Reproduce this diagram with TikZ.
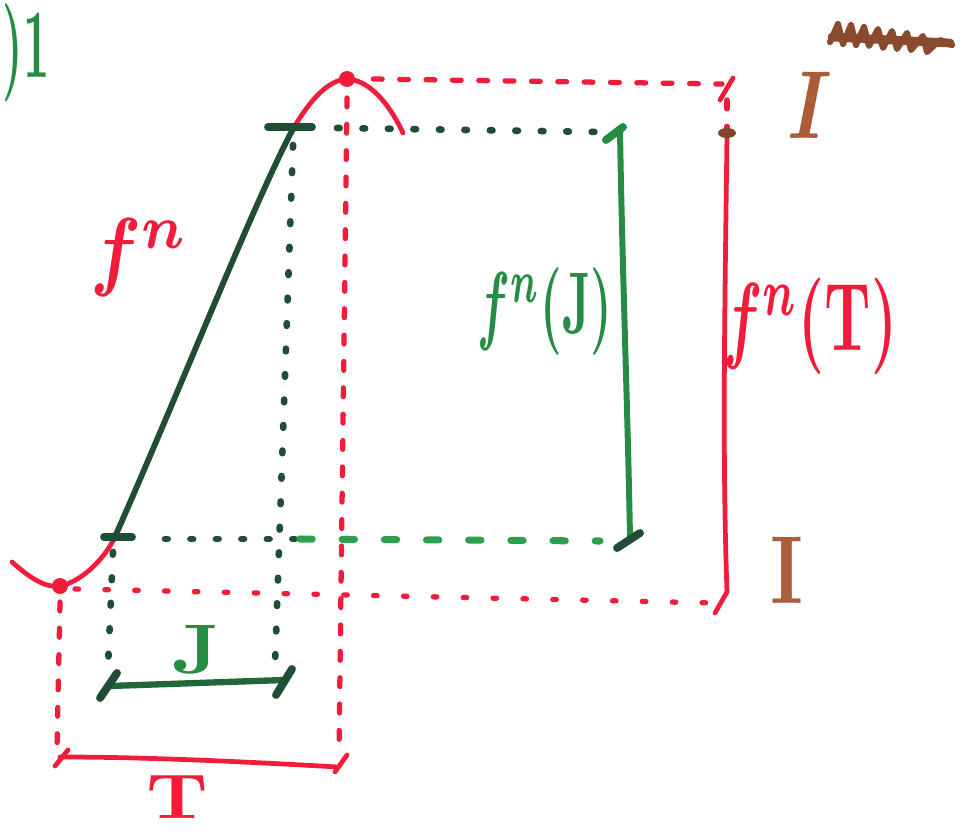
\documentclass[tikz,border=0pt]{standalone}
\usepackage{graphicx}
\usepackage{bm}
\definecolor{penred}{RGB}{240,28,58}
\definecolor{pengreen}{RGB}{38,140,68}
\definecolor{pendark}{RGB}{32,78,52}
\definecolor{penlight}{RGB}{45,160,78}
\definecolor{penbrown}{RGB}{172,92,58}
\begin{document}
\begin{tikzpicture}[x=0.02cm,y=-0.02cm,line cap=round,line join=round,
  redline/.style={draw=penred,line width=2.7pt},
  reddash/.style={draw=penred,line width=3pt,dash pattern=on 5pt off 10pt},
  reddots/.style={draw=penred,line width=3pt,dash pattern=on 2pt off 15pt},
  greenline/.style={draw=pengreen,line width=3pt},
  darkline/.style={draw=pendark,line width=3.3pt},
  greendots/.style={draw=pendark,line width=3.8pt,dash pattern=on 1.5pt off 13pt},
  greendash/.style={draw=penlight,line width=4pt,dash pattern=on 7pt off 17pt},
  tickmark/.style={line width=4.5pt},
  lab/.style={inner sep=0pt,outer sep=0pt}]

\useasboundingbox (0,0) rectangle (964,832);

% key points
\coordinate (cstart) at (12,562);
\coordinate (pmin) at (60,586);
\coordinate (jlo) at (114,539);
\coordinate (jhi) at (293,129);
\coordinate (pmax) at (347,79);
\coordinate (cend) at (403,133);

% red curve and dark branch
\draw[redline] (cstart) .. controls (30,578) and (45,588) .. (pmin) .. controls (80,582) and (102,562) .. (jlo);
\draw[redline] (jhi) .. controls (310,100) and (328,80) .. (pmax) .. controls (370,80) and (390,105) .. (cend);
\draw[darkline] (jlo) .. controls (180,390) and (255,200) .. (jhi);
\fill[penred] (pmin) circle (8);
\fill[penred] (pmax) circle (8);

% dark ticks at the ends of the branch
\coordinate (tkhl) at (268,127); \coordinate (tkhr) at (312,127);
\coordinate (tkll) at (104,537); \coordinate (tklr) at (132,537);
\draw[pendark,tickmark] (tkhl) -- (tkhr);
\draw[pendark,tickmark] (tkll) -- (tklr);

% red frame for f^n(T)
\coordinate (rtopr) at (722,84);
\coordinate (rbotl) at (75,589);
\coordinate (rbotr) at (715,603);
\draw[reddash] ([xshift=15]pmax) -- (rtopr);
\coordinate (rvt) at (727,100);
\coordinate (bdot) at (727,133);
\coordinate (rvb) at (727,592);
\draw[redline] (720,100) -- (733,78);
\draw[reddash] (rvt) -- (bdot);
\draw[redline] (bdot) .. controls (725,300) and (722,450) .. (rvb);
\draw[redline] (715,613) -- (rvb);
\fill[penbrown!75!black] (bdot) ellipse (9 and 5);
\draw[reddots] (rbotl) -- (rbotr);

% red verticals down to T
\coordinate (rv1t) at (347,98);
\coordinate (rv1b) at (339,752);
\coordinate (rv2t) at (60,602);
\coordinate (rv2b) at (57,748);
\draw[reddash] (rv1t) -- (rv1b);
\draw[reddash] (rv2t) -- (rv2b);

% segment T
\coordinate (tl) at (60,757);
\coordinate (tr) at (338,767);
\draw[redline] (tl) .. controls (150,757) and (250,762) .. (tr);
\draw[redline] (55,766) -- (68,750);
\draw[redline] (335,772) -- (347,755);

% green projections
\coordinate (gtopl) at (337,128);
\coordinate (gtopr) at (603,132);
\draw[greendots] (gtopl) -- (gtopr);
\coordinate (glowl) at (165,539);
\coordinate (glowm) at (300,539);
\coordinate (glowr) at (600,541);
\draw[greendots] (glowl) -- (glowm);
\draw[greendash] (glowm) -- (glowr);
\coordinate (gv1t) at (293,145);
\coordinate (gv1b) at (275,665);
\coordinate (gv2t) at (113,552);
\coordinate (gv2b) at (108,666);
\draw[greendots] (gv1t) -- (gv1b);
\draw[greendots] (gv2t) -- (gv2b);

% green f^n(J) segment
\coordinate (gvt) at (620,130);
\coordinate (gvb) at (630,538);
\draw[greenline,line width=3.4pt] (gvt) .. controls (622,260) and (628,420) .. (gvb);
\draw[pengreen,tickmark] (606,140) -- (623,127);
\draw[pendark,tickmark] (617,548) -- (640,533);

% segment J
\coordinate (jl) at (110,686);
\coordinate (jr) at (284,680);
\draw[greenline,draw=pendark!60!pengreen,line width=3.6pt] (jl) -- (jr);
\draw[pendark,tickmark] (100,698) -- (117,673);
\draw[pendark,tickmark] (276,695) -- (292,669);

% labels
\node[lab,text=penred] (lfn) at (140,258) {\scalebox{4.3}[5]{$\bm{f^{n}}$}};
\node[lab,text=pengreen] (lfnJ) at (545,312) {\scalebox{2.75}[5]{$\bm{f^{n}(\mathrm{J})}$}};
\node[lab,text=penred] (lfnT) at (810,326) {\scalebox{3.3}[5.5]{$\bm{f^{n}(\mathrm{T})}$}};
\node[lab,text=pengreen] (lJ) at (197,650) {\scalebox{4.6}[4]{\textbf{J}}};
\node[lab,text=penred,anchor=south] (lT) at (177,818) {\scalebox{4.4}[3.6]{\textbf{T}}};
\node[lab,text=penbrown] (lI1) at (810,105) {\scalebox{4.3}[5.5]{$\bm{I}$}};
\node[lab,text=penbrown] (lI2) at (787,570) {\scalebox{4.3}[5.5]{\textbf{I}}};
\node[lab,text=pengreen,anchor=north west] (lmark) at (3,4) {\scalebox{2.6}[5.6]{\textbf{)1}}};

% crossed-out word (brown scribble)
\draw[penbrown!80!black,line width=3.5pt] (830,42) -- (838,24) -- (843,44) -- (851,25) -- (856,45) -- (864,27) -- (869,46) -- (878,29) -- (883,48) -- (892,31) -- (897,49) -- (907,33) -- (911,50) -- (923,36) -- (927,52) -- (940,40) -- (952,45);
\draw[penbrown!80!black,line width=5pt] (832,37) -- (950,43);
\end{tikzpicture}
\end{document}
